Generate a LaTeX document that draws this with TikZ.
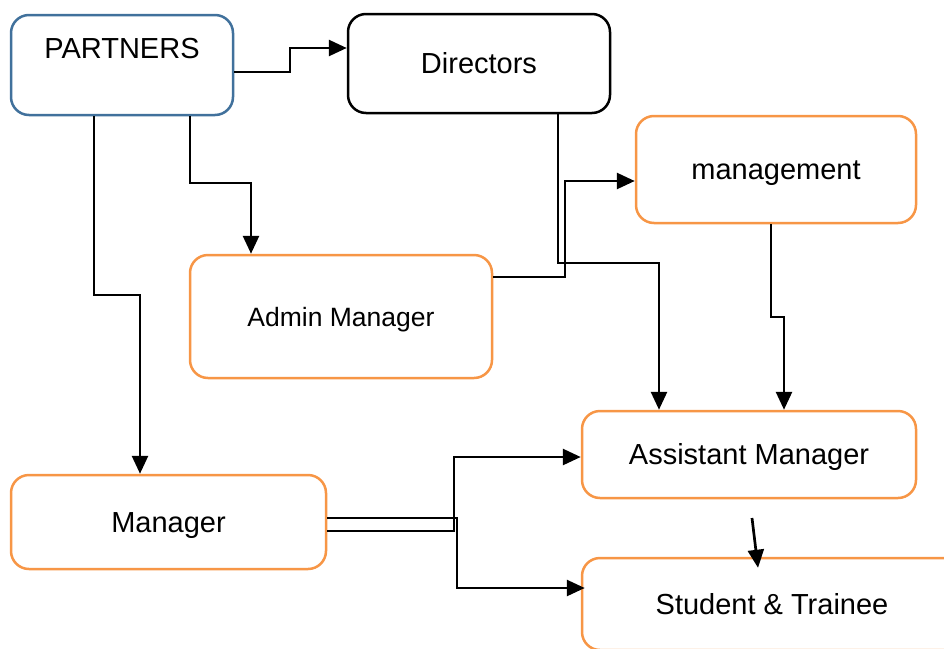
\documentclass[tikz,border=0pt]{standalone}
\usepackage{fontspec}
\setmainfont{Liberation Sans}
\usetikzlibrary{arrows.meta,calc}
\definecolor{partblue}{RGB}{65,113,156}
\definecolor{boxorange}{RGB}{247,150,70}
\begin{document}
\begin{tikzpicture}
          [x=1pt,y=-1pt,
          font=\fontsize{29}{34}\selectfont,
          box/.style={shape=rectangle,rounded corners=18pt,draw=boxorange,fill=white,text=black,line width=2.5pt,inner sep=0pt,text height=20pt,text depth=0pt},
          arc/.style={-{Triangle[length=18pt,width=16pt]},line width=2.7pt,black}]

          \useasboundingbox (0,0) rectangle (944,648);
          \clip (0,0) rectangle (944,648);

            \node (partners) [box,draw=partblue,minimum width=222pt,minimum height=100pt,text height=21pt,text depth=35pt] at (122,65) {PARTNERS};
            \node (directors) [box,draw=black,minimum width=262pt,minimum height=99pt] at (479,63.5) {Directors};
            \node (management) [box,minimum width=280pt,minimum height=107pt] at (776,169.5) {management};
            \node (admin) [box,minimum width=302pt,minimum height=123pt,font=\fontsize{26.5}{31}\selectfont] at (341,316.5) {Admin Manager};
            \node (assistant) [box,minimum width=334pt,minimum height=87pt] at (749,454.5) {Assistant Manager};
            \node (manager) [box,minimum width=315pt,minimum height=94pt] at (168.5,522) {Manager};
            \node (student) [box,minimum width=380pt,minimum height=92pt] at (772,604) {Student \& Trainee};

          \coordinate (S1) at (752,518);

          \draw [arc] (partners.east |- 0,72) -- (290,72) -- (290,48) -- (directors.west |- 0,48);
            \draw [arc] (partners.south -| 94,0) -- (94,295) -- (140,295) -- (manager.north -| 140,0);
            \draw [arc] (partners.south -| 190,0) -- (190,183) -- (251,183) -- (admin.north -| 251,0);
            \draw [arc] (directors.south -| 558,0) -- (558,263) -- (659,263) -- (assistant.north -| 659,0);
            \draw [arc] (admin.east |- 0,277) -- (565,277) -- (565,181) -- (management.west |- 0,181);
            \draw [arc] (management.south -| 771,0) -- (771,317) -- (784,317) -- (assistant.north -| 784,0);
            \draw [arc] (manager.east |- 0,531) -- (454,531) -- (454,457) -- (assistant.west |- 0,457);
            \draw [arc] (manager.east |- 0,518) -- (457,518) -- (457,588) -- ($(student.west |- 0,588)+(4,0)$);
            \draw [arc] (S1) -- ($(student.north -| 758,0)+(0,11)$);

        \end{tikzpicture}
\end{document}
